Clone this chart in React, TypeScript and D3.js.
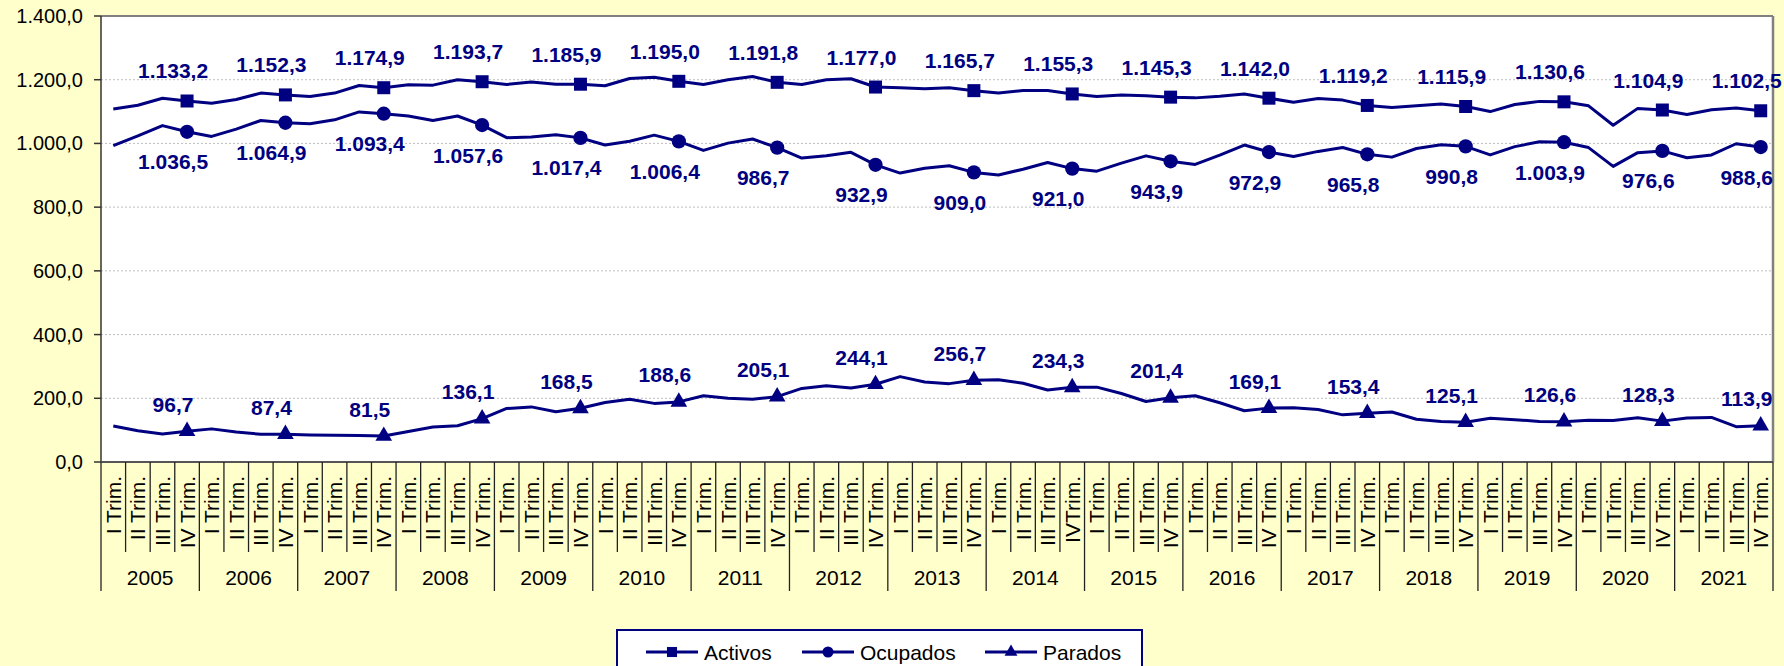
import React, { useEffect } from "react";
import * as d3 from "d3";

// Encuesta de población activa, miles de personas, 2005-2021 (trimestral)
const years = ["2005", "2006", "2007", "2008", "2009", "2010", "2011", "2012", "2013", "2014", "2015", "2016", "2017", "2018", "2019", "2020", "2021"];
const quarters = ["I Trim.", "II Trim.", "III Trim.", "IV Trim."];

const activos = [
  1108, 1120, 1142, 1133.2,
  1126, 1138, 1158, 1152.3,
  1147, 1158, 1182, 1174.9,
  1184, 1183, 1200, 1193.7,
  1185, 1193, 1186, 1185.9,
  1181, 1204, 1208, 1195.0,
  1185, 1200, 1210, 1191.8,
  1185, 1200, 1203, 1177.0,
  1175, 1172, 1175, 1165.7,
  1158, 1166, 1166, 1155.3,
  1147, 1152, 1150, 1145.3,
  1143, 1148, 1155, 1142.0,
  1129, 1141, 1136, 1119.2,
  1113, 1118, 1124, 1115.9,
  1100, 1122, 1132, 1130.6,
  1118, 1057, 1110, 1104.9,
  1091, 1106, 1111, 1102.5,
];

const ocupados = [
  993, 1024, 1056, 1036.5,
  1022, 1045, 1072, 1064.9,
  1062, 1074, 1099, 1093.4,
  1086, 1072, 1086, 1057.6,
  1018, 1020, 1027, 1017.4,
  995, 1007, 1026, 1006.4,
  978, 1001, 1014, 986.7,
  954, 961, 972, 932.9,
  907, 922, 930, 909.0,
  901, 919, 940, 921.0,
  913, 938, 961, 943.9,
  934, 963, 995, 972.9,
  959, 975, 987, 965.8,
  957, 984, 996, 990.8,
  964, 990, 1005, 1003.9,
  987, 928, 971, 976.6,
  955, 964, 999, 988.6,
];

const parados = [
  113, 98, 88, 96.7,
  104, 94, 87, 87.4,
  85, 84, 83, 81.5,
  96, 110, 114, 136.1,
  168, 173, 158, 168.5,
  187, 197, 184, 188.6,
  208, 200, 197, 205.1,
  231, 239, 232, 244.1,
  268, 251, 246, 256.7,
  258, 247, 226, 234.3,
  235, 215, 190, 201.4,
  208, 186, 161, 169.1,
  170, 165, 148, 153.4,
  157, 134, 127, 125.1,
  137, 133, 127, 126.6,
  131, 130, 139, 128.3,
  138, 140, 111, 113.9,
];

const yTicks = [0, 200, 400, 600, 800, 1000, 1200, 1400];

// quarter labels (the original has "IVTrim." without a space in 2014)
const quarterLabels = years.flatMap((y) =>
  quarters.map((q) => (y === "2014" && q === "IV Trim." ? "IVTrim." : q))
);

const W = 1784;
const H = 666;
const left = 101;
const right = 1773;
const top = 16;
const bottom = 462;
const NAVY = "#000080";
const FONT = "Arial, 'Liberation Sans', sans-serif";

const es = d3.formatLocale({ decimal: ",", thousands: ".", grouping: [3], currency: ["", " €"] });
const fmt = es.format(",.1f");

const series = [
  { name: "Activos", values: activos, symbol: d3.symbolSquare, size: 169, dy: -30 },
  { name: "Ocupados", values: ocupados, symbol: d3.symbolCircle, size: 160, dy: 30 },
  { name: "Parados", values: parados, symbol: d3.symbolTriangle, size: 120, dy: -27 },
];

export default function App() {
  useEffect(() => {
    document.body.style.margin = "0";
  }, []);

  const x = d3
    .scaleBand<number>()
    .domain(d3.range(quarterLabels.length))
    .range([left, right]);
  const bw = x.bandwidth();
  const cx = (i: number) => (x(i) as number) + bw / 2;
  const y = d3.scaleLinear().domain([0, 1400]).range([bottom, top]);

  const line = d3
    .line<number>()
    .x((_, i) => cx(i))
    .y((d) => y(d));

  const isIV = (i: number) => i % 4 === 3;

  return (
    <svg width={W} height={H} style={{ display: "block", fontFamily: FONT }}>
      <rect width={W} height={H} fill="#FFFFCC" />
      <rect x={left} y={top} width={right - left} height={bottom - top} fill="#FFFFFF" />

      {/* gridlines */}
      {yTicks
        .filter((t) => t > 0 && t < 1400)
        .map((t) => (
          <line key={t} x1={left} x2={right} y1={y(t)} y2={y(t)} stroke="#BFBFBF" strokeWidth={1} strokeDasharray="2,2" />
        ))}

      {/* plot border */}
      <line x1={left} x2={right} y1={top} y2={top} stroke="#808080" strokeWidth={2} />
      <line x1={right} x2={right} y1={top} y2={bottom} stroke="#808080" strokeWidth={2.5} />

      {/* y axis */}
      <line x1={left} x2={left} y1={top} y2={bottom} stroke="#333" strokeWidth={1.5} />
      {yTicks.map((t) => (
        <g key={t}>
          <line x1={left - 7} x2={left} y1={y(t)} y2={y(t)} stroke="#333" strokeWidth={1.5} />
          <text x={83} y={y(t) + 7} textAnchor="end" fontSize={20} fill="#000">
            {fmt(t)}
          </text>
        </g>
      ))}

      {/* x axis */}
      <line x1={left} x2={right} y1={bottom} y2={bottom} stroke="#555" strokeWidth={2} />
      {d3.range(quarterLabels.length + 1).map((i) => {
        const xx = i < quarterLabels.length ? (x(i) as number) : right;
        return (
          <line key={i} x1={xx} x2={xx} y1={bottom} y2={i % 4 === 0 ? 591 : 552} stroke="#222" strokeWidth={1.3} />
        );
      })}
      {quarterLabels.map((q, i) => (
        <text
          key={i}
          transform={`translate(${cx(i) + 7.5},476) rotate(-90)`}
          textAnchor="end"
          fontSize={21}
          fill="#000"
        >
          {q}
        </text>
      ))}
      {years.map((yr, k) => (
        <text key={yr} x={((x(k * 4) as number) + (x(k * 4 + 3) as number) + bw) / 2} y={585} textAnchor="middle" fontSize={21} fill="#000">
          {yr}
        </text>
      ))}

      {/* series */}
      {series.map((s) => (
        <g key={s.name}>
          <path d={line(s.values) ?? ""} fill="none" stroke={NAVY} strokeWidth={3} strokeLinejoin="round" />
          {s.values.map((v, i) =>
            isIV(i) ? (
              <path key={i} d={d3.symbol(s.symbol, s.size)() ?? ""} transform={`translate(${cx(i)},${y(v)})`} fill={NAVY} />
            ) : null
          )}
          {s.values.map((v, i) =>
            isIV(i) ? (
              <text key={"t" + i} x={cx(i) - 14} y={y(v) + s.dy + 7.5} textAnchor="middle" fontSize={21} fontWeight="bold" fill={NAVY}>
                {fmt(v)}
              </text>
            ) : null
          )}
        </g>
      ))}

      {/* legend */}
      <rect x={617} y={630} width={525} height={40} fill="#FFFFFF" stroke={NAVY} strokeWidth={2} />
      {series.map((s, k) => {
        const lx = [646, 802, 985][k];
        return (
          <g key={s.name} transform={`translate(${lx},652)`}>
            <line x1={0} x2={52} y1={0} y2={0} stroke={NAVY} strokeWidth={3} />
            <path d={d3.symbol(s.symbol, s.size * 0.6)() ?? ""} transform="translate(26,0)" fill={NAVY} />
            <text x={58} y={7.5} fontSize={21} fill="#000">
              {s.name}
            </text>
          </g>
        );
      })}
    </svg>
  );
}
